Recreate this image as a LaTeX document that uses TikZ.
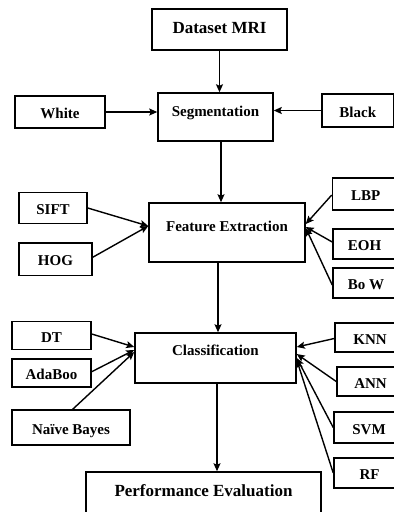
\documentclass[tikz,border=0pt]{standalone}
\usepackage{fontspec}
\setmainfont{Liberation Serif}
\usetikzlibrary{arrows.meta}
\tikzset{
  box/.style={draw, line width=1.5pt, inner sep=0pt, font=\bfseries\fontsize{15}{18}\selectfont},
  sbox/.style={box, text height=13pt, text depth=0pt},
  arr/.style={line width=1.4pt, -{Stealth[length=8pt,width=7pt,inset=1.5pt]}},
}
\begin{document}
\begin{tikzpicture}[x=1pt,y=-1pt]
\useasboundingbox (0,0) rectangle (394,512);
\clip (0,0) rectangle (394,512);
% main column
\node[box, font=\bfseries\fontsize{17}{20}\selectfont, minimum width=135, minimum height=41, text height=11.3pt, text depth=2.4pt] (data) at (219.5,29.5) {Dataset MRI};
\node[box, minimum width=115, minimum height=48, text height=10pt, text depth=11pt] (seg) at (215.5,117) {Segmentation};
\node[box, minimum width=156, minimum height=59, text height=10pt, text depth=11.6pt] (feat) at (227,232.5) {Feature Extraction};
\node[box, minimum width=161, minimum height=50, text height=10pt, text depth=14.6pt] (class) at (215.5,358) {Classification};
\node[box, font=\bfseries\fontsize{17}{20}\selectfont, minimum width=235, minimum height=48, text height=11.25pt, text depth=10pt] (perf) at (203.5,496) {Performance Evaluation};
% side boxes
\node[sbox, minimum width=90, minimum height=32] (white) at (60,112) {White};
\node[sbox, minimum width=71.5, minimum height=33] (black) at (357.75,110.5) {Black};
\node[sbox, minimum width=68, minimum height=31] (sift) at (53,208) {SIFT};
\node[sbox, minimum width=73, minimum height=32.5] (hog) at (55.5,259.25) {HOG};
\node[sbox, minimum width=66.5, minimum height=32] (lbp) at (365.75,194) {LBP};
\node[sbox, minimum width=63, minimum height=30] (eoh) at (364.5,244) {EOH};
\node[sbox, minimum width=66, minimum height=30] (bow) at (366,283) {Bo W};
\node[sbox, minimum width=79, minimum height=28] (dt) at (51.5,335.5) {DT};
\node[sbox, minimum width=79, minimum height=28] (ada) at (51.5,373) {AdaBoo};
\node[sbox, minimum width=118, minimum height=35, text height=14pt] (nb) at (71,427.5) {Naïve Bayes};
\node[sbox, minimum width=70, minimum height=29] (knn) at (370,337.5) {KNN};
\node[sbox, minimum width=67, minimum height=29] (ann) at (370.5,381.5) {ANN};
\node[sbox, minimum width=70, minimum height=31] (svm) at (369,427.5) {SVM};
\node[sbox, minimum width=71, minimum height=30] (rf) at (369.5,473) {RF};
% vertical flow
\draw[arr] (data.south) -- (data.south |- seg.north);
\draw[arr] ([xshift=5.5pt]seg.south) -- ([xshift=5.5pt]seg.south |- feat.north);
\draw[arr] ([xshift=-9pt]feat.south) -- ([xshift=-9pt]feat.south |- class.north);
\draw[arr] ([xshift=1.5pt]class.south) -- ([xshift=1.5pt]class.south |- perf.north);
% segmentation inputs
\draw[arr] (white.east) -- (seg.west |- white.east);
\draw[arr] (black.west) -- (seg.east |- black.west);
% feature inputs
\draw[arr] (sift.east) -- ([yshift=6.5pt]feat.west);
\draw[arr] ([yshift=2pt]hog.east) -- ([yshift=6.5pt]feat.west);
\draw[arr] ([yshift=-1pt]lbp.west) -- ([yshift=8.5pt]feat.east);
\draw[arr] ([yshift=2pt]eoh.west) -- ([yshift=5.5pt]feat.east);
\draw[arr] ([yshift=-2pt]bow.west) -- ([yshift=4.5pt]feat.east);
% classification inputs
\draw[arr] ([yshift=1.5pt]dt.east) -- ([yshift=11pt]class.west);
\draw[arr] ([yshift=1.3pt]ada.east) -- ([yshift=8pt]class.west);
\draw[arr] ([xshift=1.7pt]nb.north) -- ([yshift=6pt]class.west);
\draw[arr] ([yshift=-1pt]knn.west) -- ([yshift=11pt]class.east);
\draw[arr] (ann.west) -- ([yshift=4pt]class.east);
\draw[arr] (svm.west) -- (class.east);
\draw[arr] (rf.west) -- ([yshift=-2pt]class.east);
\end{tikzpicture}
\end{document}
